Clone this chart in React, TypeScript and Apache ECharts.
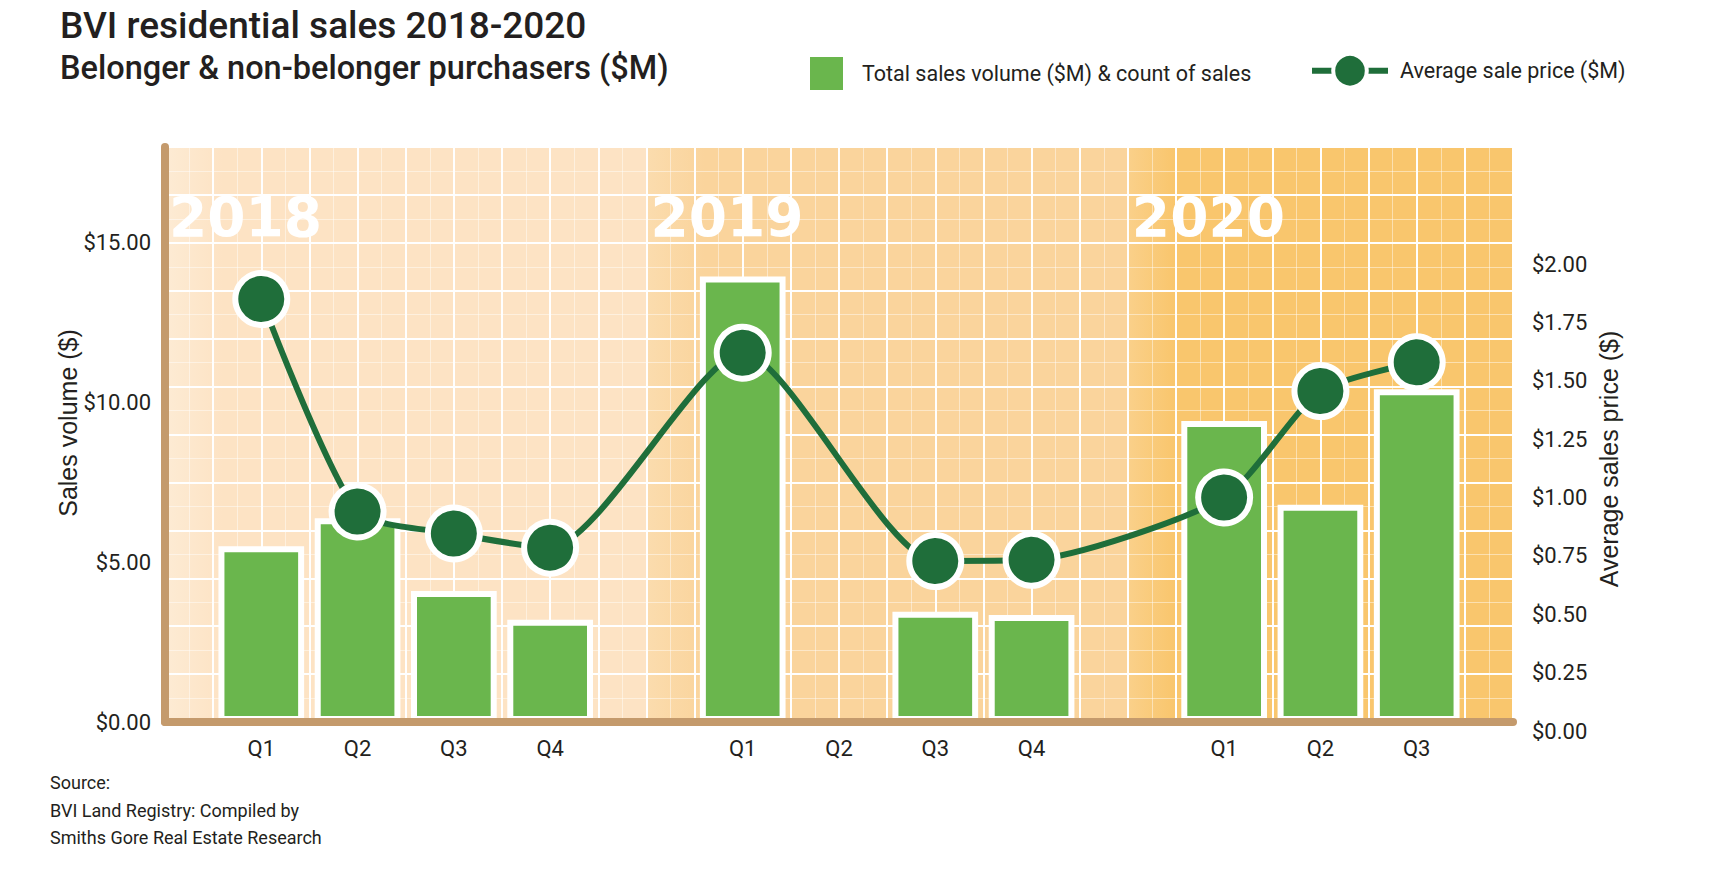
import React, { useEffect, useRef } from "react";
import * as echarts from "echarts";

// ---------- data ----------
const categories = ["", "Q1", "Q2", "Q3", "Q4", "", "Q1", "Q2", "Q3", "Q4", "", "Q1", "Q2", "Q3", ""];
const salesVolume = [null, 5.5, 6.38, 4.1, 3.2, null, 13.95, null, 3.45, 3.35, null, 9.42, 6.8, 10.42, null];
const avgPrice = [null, 1.85, 0.94, 0.846, 0.785, null, 1.62, null, 0.728, 0.733, null, 1.0, 1.456, 1.579, null];
const years = ["2018", "2019", "2020"];
const yearStart = [0, 5, 10];
const yearEnd = [5, 10, 14];
const leftTicks = [0, 5, 10, 15];
const barName = "Total sales volume ($M) & count of sales";
const lineName = "Average sale price ($M)";
const sourceLines = ["Source:", "BVI Land Registry: Compiled by", "Smiths Gore Real Estate Research"];

// ---------- styles ----------
const TXT = "#231f20";
const TAN = "#c49a6c";
const BAR = "#6ab64d";
const DARK = "#1f6e3a";
const COND = "Roboto, 'Liberation Sans', sans-serif";
const SANS = "'Liberation Sans', Arial, sans-serif";
const panelColors = [
  ["#fdebd4", "#fde3c4"],
  ["#fbdcae", "#fad49c"],
  ["#fad08a", "#f9c66d"],
];

export default function App() {
  const ref = useRef<HTMLDivElement>(null);
  useEffect(() => {
    if (!ref.current) return;
    const chart = echarts.init(ref.current, undefined, { renderer: "svg" });
    const panelData = years.map((y, i) => [yearStart[i], yearEnd[i], i]);
    const option: any = {
      animation: false,
      backgroundColor: "#ffffff",
      title: {
        text: "BVI residential sales 2018-2020",
        subtext: "Belonger & non-belonger purchasers ($M)",
        left: 55,
        top: 0,
        itemGap: 5,
        textStyle: { fontFamily: "Roboto", fontWeight: 500, fontSize: 37, lineHeight: 40, color: TXT },
        subtextStyle: { fontFamily: "Roboto", fontWeight: 500, fontSize: 32.5, lineHeight: 35, color: TXT },
      },
      legend: [
        {
          left: 805,
          top: 52,
          itemWidth: 33,
          itemHeight: 33,
          selectedMode: false,
          data: [{ name: barName, icon: "rect", itemStyle: { borderWidth: 0, color: BAR } }],
          textStyle: { fontFamily: COND, fontSize: 21.5, color: TXT, padding: [0, 0, 0, 14] },
        },
        {
          left: 1304,
          top: 47,
          itemWidth: 76,
          itemHeight: 42,
          selectedMode: false,
          data: [
            {
              name: lineName,
              itemStyle: { color: DARK, borderColor: "#ffffff", borderWidth: 4 },
              lineStyle: { color: DARK, width: 6 },
            },
          ],
          textStyle: { fontFamily: COND, fontSize: 21.5, color: TXT, padding: [0, 0, 0, 7] },
        },
      ],
      grid: [
        { left: 165, right: 215, top: 147, bottom: 150, outerBoundsMode: "none" },
        { left: 165, right: 215, top: 264, bottom: 141, outerBoundsMode: "none" },
      ],
      xAxis: [
        {
          gridIndex: 0,
          type: "category",
          data: categories,
          boundaryGap: false,
          z: 3,
          axisLine: { show: true, lineStyle: { color: TAN, width: 8 } },
          axisTick: { show: false },
          axisLabel: { interval: 0, margin: 15, fontFamily: COND, fontSize: 22, color: TXT },
          splitLine: { show: false },
        },
        {
          gridIndex: 1,
          type: "category",
          data: categories,
          boundaryGap: false,
          show: false,
        },
        {
          gridIndex: 0,
          type: "value",
          position: "top",
          min: 0,
          max: 28,
          interval: 1,
          z: 1,
          axisLine: { show: false },
          axisTick: { show: false },
          axisLabel: { show: false },
          minorTick: { show: false, splitNumber: 2 },
          splitLine: { show: true, lineStyle: { color: "#ffffff", width: 2 } },
          minorSplitLine: { show: true, lineStyle: { color: "rgba(255,255,255,0.45)", width: 1 } },
        },
      ],
      yAxis: [
        {
          gridIndex: 0,
          type: "value",
          position: "left",
          min: 0,
          max: 18,
          interval: 5,
          z: 3,
          axisLine: { show: true, lineStyle: { color: TAN, width: 8 } },
          axisTick: { show: false },
          splitLine: { show: false },
          axisLabel: {
            margin: 14,
            showMaxLabel: false,
            fontFamily: COND,
            fontSize: 22,
            color: TXT,
            formatter: (v: number) => (leftTicks.indexOf(v) >= 0 ? "$" + v.toFixed(2) : ""),
          },
        },
        {
          gridIndex: 1,
          type: "value",
          position: "right",
          min: 0,
          max: 2,
          interval: 0.25,
          axisLine: { show: false },
          axisTick: { show: false },
          splitLine: { show: false },
          axisLabel: {
            margin: 19,
            fontFamily: COND,
            fontSize: 22,
            color: TXT,
            formatter: (v: number) => "$" + v.toFixed(2),
          },
        },
        {
          gridIndex: 0,
          type: "value",
          position: "right",
          min: 0,
          max: 12,
          interval: 1,
          z: 1,
          axisLine: { show: false },
          axisTick: { show: false },
          axisLabel: { show: false },
          minorTick: { show: false, splitNumber: 2 },
          splitLine: { show: true, lineStyle: { color: "#ffffff", width: 2 } },
          minorSplitLine: { show: true, lineStyle: { color: "rgba(255,255,255,0.45)", width: 1 } },
        },
      ],
      series: [
        {
          type: "custom",
          name: "panels",
          xAxisIndex: 0,
          yAxisIndex: 0,
          z: 0,
          silent: true,
          encode: { x: [0, 1] },
          data: panelData,
          renderItem: (params: any, api: any) => {
            const i = api.value(2);
            const x0 = api.coord([api.value(0), 0])[0];
            const x1 = api.coord([api.value(1), 0])[0];
            const cs = params.coordSys;
            const c = panelColors[i];
            return {
              type: "group",
              children: [
                {
                  type: "rect",
                  shape: { x: x0, y: cs.y, width: x1 - x0, height: cs.height },
                  style: {
                    fill: {
                      type: "linear",
                      x: 0,
                      y: 0,
                      x2: 1,
                      y2: 0,
                      colorStops: [
                        { offset: 0, color: c[0] },
                        { offset: 0.12, color: c[1] },
                        { offset: 1, color: c[1] },
                      ],
                    },
                  },
                },
                {
                  type: "text",
                  x: x0 + 4,
                  y: cs.y + 70,
                  style: {
                    text: years[i],
                    fill: "#ffffff",
                    fontFamily: "'DejaVu Sans', sans-serif",
                    fontWeight: "bold",
                    fontSize: 55,
                    align: "left",
                    verticalAlign: "middle",
                  },
                },
              ],
            };
          },
        },
        {
          type: "bar",
          name: barName,
          xAxisIndex: 0,
          yAxisIndex: 0,
          z: 2,
          barWidth: "89%",
          data: salesVolume,
          itemStyle: { color: BAR, borderColor: "#ffffff", borderWidth: 6 },
        },
        {
          type: "line",
          name: lineName,
          xAxisIndex: 1,
          yAxisIndex: 1,
          z: 4,
          data: avgPrice,
          connectNulls: true,
          smooth: 0.22,
          symbol: "circle",
          symbolSize: 52,
          lineStyle: { color: DARK, width: 6 },
          itemStyle: { color: DARK, borderColor: "#ffffff", borderWidth: 6 },
        },
      ],
      graphic: [
        {
          type: "text",
          x: 68,
          y: 423,
          rotation: Math.PI / 2,
          style: {
            text: "Sales volume ($)",
            fontFamily: SANS,
            fontSize: 25,
            fill: TXT,
            align: "center",
            verticalAlign: "middle",
          },
        },
        {
          type: "text",
          x: 1609,
          y: 459,
          rotation: Math.PI / 2,
          style: {
            text: "Average sales price ($)",
            fontFamily: SANS,
            fontSize: 25,
            fill: TXT,
            align: "center",
            verticalAlign: "middle",
          },
        },
        {
          type: "text",
          left: 50,
          top: 769,
          style: {
            text: sourceLines.join("\n"),
            fontFamily: COND,
            fontSize: 18,
            lineHeight: 27.5,
            fill: TXT,
          },
        },
      ],
    };
    chart.setOption(option);
    return () => chart.dispose();
  }, []);
  return (
    <div
      ref={ref}
      style={{ position: "fixed", left: 0, top: 0, width: 1728, height: 872, background: "#fff" }}
    />
  );
}
